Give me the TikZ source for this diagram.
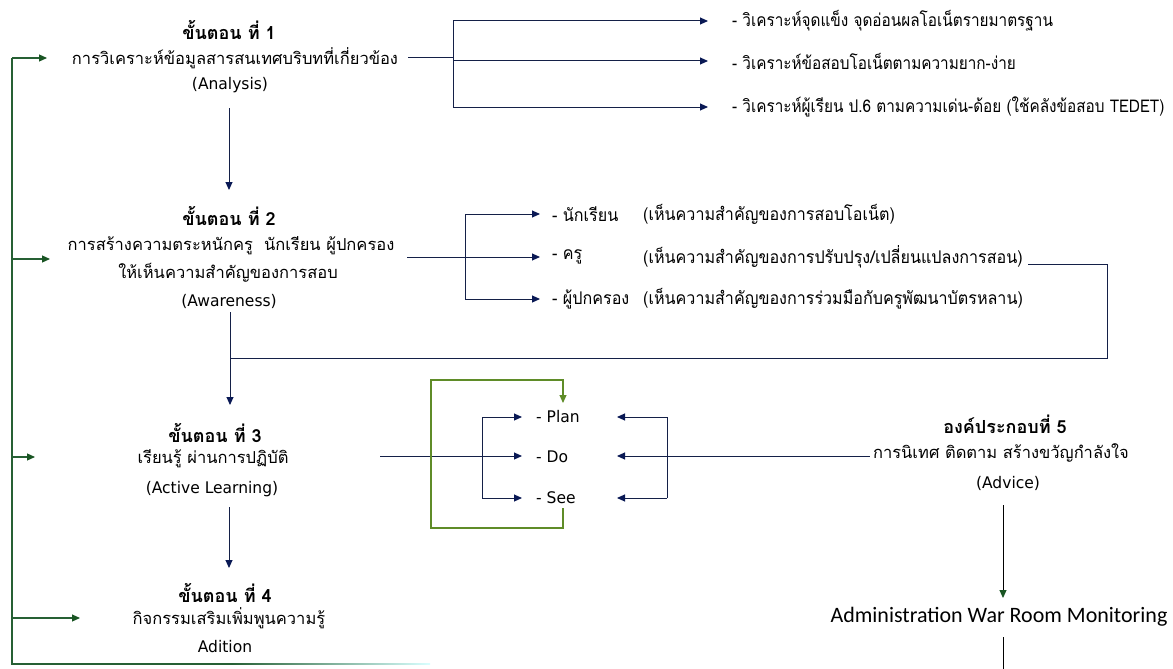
\documentclass[tikz,border=0pt]{standalone}
\usepackage{fontspec}
\usetikzlibrary{arrows.meta}
\newfontfamily\thf[Script=Thai]{Loma}
\newfontfamily\thn[Script=Thai,FakeStretch=0.92]{Loma}
\newfontfamily\thb[Script=Thai,FakeStretch=0.875]{Loma}
\newfontfamily\enf[FakeStretch=0.97]{DejaVu Sans}
\newfontfamily\calf{Carlito}
\definecolor{navy}{RGB}{20,32,72}
\definecolor{navyhead}{RGB}{10,25,85}
\definecolor{fbgreen}{RGB}{38,96,52}
\definecolor{fbhead}{RGB}{25,85,35}
\definecolor{loopgreen}{RGB}{95,140,40}
\tikzset{
  hd/.style={inner sep=0pt, font=\thf\bfseries\fontsize{18}{21}\selectfont},
  tx/.style={inner sep=0pt, font=\thf\fontsize{16.5}{19}\selectfont},
  en/.style={inner sep=0pt, font=\enf\fontsize{16}{19}\selectfont},
  bl/.style={inner sep=0pt, anchor=west, font=\thn\fontsize{17.5}{20}\selectfont},
  bt/.style={inner sep=0pt, anchor=west, font=\thb\fontsize{17.5}{20}\selectfont},
  nv/.style={draw=navy, line width=1pt},
  nvarr/.style={nv, -{Triangle[length=8pt,width=7pt,fill=navyhead,color=navyhead]}},
  fb/.style={draw=fbgreen, line width=1.1pt},
  fbarr/.style={fb, -{Triangle[length=8pt,width=7pt,fill=fbhead,color=fbhead]}},
  lp/.style={draw=loopgreen, line width=1.1pt},
}
\begin{document}
\begin{tikzpicture}[x=1pt,y=-1pt]
\path[use as bounding box, fill=white] (0,0) rectangle (1173,669);

% ---- Step 1
\node[hd] (s1h) at (229,30) {ขั้นตอน ที่ 1};
\node[tx] (s1t) at (235,58) {การวิเคราะห์ข้อมูลสารสนเทศบริบทที่เกี่ยวข้อง};
\node[en] (s1e) at (230,85) {(Analysis)};
\node[bt] (b11) at (732,21) {- วิเคราะห์จุดแข็ง จุดอ่อนผลโอเน็ตรายมาตรฐาน};
\node[bt] (b12) at (732,61) {- วิเคราะห์ข้อสอบโอเน็ตตามความยาก-ง่าย};
\node[bt] (b13) at (732,107) {- วิเคราะห์ผู้เรียน ป.6 ตามความเด่น-ด้อย (ใช้คลังข้อสอบ TEDET)};
\coordinate (c1) at (408,58);
\coordinate (j1) at (453,58);
\coordinate (j1t) at (453,21);
\coordinate (j1m) at (453,61);
\coordinate (j1b) at (453,107);
\draw[nv] (c1) -- (j1);
\draw[nv] (j1t) -- (j1b);
\draw[nvarr] (j1t) -- ([xshift=-24pt]b11.west);
\draw[nvarr] (j1m) -- ([xshift=-24pt]b12.west);
\draw[nvarr] (j1b) -- ([xshift=-24pt]b13.west);

% ---- Step 2
\node[hd] (s2h) at (229,216) {ขั้นตอน ที่ 2};
\node[tx] (s2t) at (231,246) {การสร้างความตระหนักครู~~นักเรียน ผู้ปกครอง};
\node[tx] (s2u) at (228,273) {ให้เห็นความสำคัญของการสอบ};
\node[en] (s2e) at (229,301) {(Awareness)};
\node[bl] (p1) at (552,214) {- นักเรียน};
\node[bl] (p2) at (552,257) {- ครู};
\node[bl] (p3) at (552,299) {- ผู้ปกครอง};
\node[bl] (q1) at (643,214) {(เห็นความสำคัญของการสอบโอเน็ต)};
\node[bl] (q2) at (643,257) {(เห็นความสำคัญของการปรับปรุง/เปลี่ยนแปลงการสอน)};
\node[bl] (q3) at (643,299) {(เห็นความสำคัญของการร่วมมือกับครูพัฒนาบัตรหลาน)};
\coordinate (c2) at (407,257);
\coordinate (j2) at (465,257);
\coordinate (j2t) at (465,214);
\coordinate (j2b) at (465,299);
\draw[nv] (c2) -- (j2);
\draw[nv] (j2t) -- (j2b);
\draw[nvarr] (j2t) -- ([xshift=-12pt]p1.west);
\draw[nvarr] (j2) -- ([xshift=-12pt]p2.west);
\draw[nvarr] (j2b) -- ([xshift=-12pt]p3.west);
\coordinate (k0) at (1028,264);
\coordinate (k1) at (1107,264);
\coordinate (k2) at (1107,358);
\coordinate (k3) at (230,358);
\draw[nv] (k0) -- (k1) -- (k2) -- (k3);

% step 1 -> 2 -> 3
\coordinate (a1s) at (229,108);
\coordinate (a1e) at (229,190);
\draw[nvarr] (a1s) -- (a1e);
\coordinate (a2s) at (230,312);
\coordinate (a2e) at (230,405);
\draw[nvarr] (a2s) -- (a2e);

% ---- Step 3
\node[hd] (s3h) at (215,433) {ขั้นตอน ที่ 3};
\node[tx] (s3t) at (213,459) {เรียนรู้ ผ่านการปฏิบัติ};
\node[en] (s3e) at (212,489) {(Active Learning)};
\node[en, anchor=west] (pd1) at (536,417) {- Plan};
\node[en, anchor=west] (pd2) at (536,457) {- Do};
\node[en, anchor=west] (pd3) at (536,498) {- See};
\coordinate (c3) at (380,456);
\coordinate (j3) at (482,456);
\coordinate (j3t) at (482,417);
\coordinate (j3b) at (482,498);
\draw[nv] (c3) -- (j3);
\draw[nv] (j3t) -- (j3b);
\draw[nvarr] (j3t) -- ([xshift=-14pt]pd1.west);
\draw[nvarr] (j3) -- ([xshift=-14pt]pd2.west |- j3);
\draw[nvarr] (j3b) -- ([xshift=-14pt]pd3.west);
% loop
\coordinate (l0) at (563,508);
\coordinate (l1) at (563,528);
\coordinate (l2) at (431,528);
\coordinate (l3) at (431,380);
\coordinate (l4) at (563,380);
\coordinate (l5) at (563,403);
\draw[lp, -{Triangle[length=8pt,width=7pt,fill=loopgreen,color=loopgreen]}] (l0) -- (l1) -- (l2) -- (l3) -- (l4) -- (l5);

% right side arrows
\coordinate (r0) at (667,456);
\coordinate (rt) at (667,417);
\coordinate (rb) at (667,498);
\coordinate (rt2) at (617,417);
\coordinate (r02) at (617,456);
\coordinate (rb2) at (617,498);
\draw[nv] (rt) -- (rb);
\draw[nvarr] (rt) -- (rt2);
\draw[nvarr] (r0) -- (r02);
\draw[nvarr] (rb) -- (rb2);

% ---- Component 5
\node[hd] (s5h) at (1005,424) {องค์ประกอบที่ 5};
\node[tx] (s5t) at (1001,453) {การนิเทศ ติดตาม สร้างขวัญกำลังใจ};
\node[en] (s5e) at (1008,483) {(Advice)};
\draw[nv] (r0) -- ([xshift=-3pt]s5t.west |- r0);
\node[inner sep=0pt, font=\calf\fontsize{22}{26}\selectfont] (adm) at (999,617) {Administration War Room Monitoring};
\coordinate (a5s) at (1003,505);
\coordinate (a5e) at (1003,598);
\draw[draw=black, line width=1pt, -{Triangle[length=8pt,width=7pt,fill=fbhead,color=fbhead]}] (a5s) -- (a5e);
\coordinate (a6s) at (1003,637);
\coordinate (a6e) at (1003,669);
\draw[draw=black, line width=1pt] (a6s) -- (a6e);

% ---- Step 4
\coordinate (a3s) at (229,507);
\coordinate (a3e) at (229,568);
\draw[nvarr] (a3s) -- (a3e);
\node[hd] (s4h) at (225,593) {ขั้นตอน ที่ 4};
\node[tx] (s4t) at (229,618) {กิจกรรมเสริมเพิ่มพูนความรู้};
\node[en] (s4e) at (225,647) {Adition};

% ---- feedback line
\coordinate (f0) at (12,58);
\coordinate (f1) at (12,664);
\coordinate (f2) at (232,664);
\coordinate (f3) at (430,664);
\draw[fb] (f0) -- (f1) -- (f2);
\shade[left color=fbgreen, right color=cyan!15] (232,663.4) rectangle (430,664.6);
\coordinate (g1) at (47,58);
\coordinate (g2s) at (12,259);
\coordinate (g2) at (50,259);
\coordinate (g3s) at (12,457);
\coordinate (g3) at (35,457);
\coordinate (g4s) at (12,618);
\coordinate (g4) at (80,618);
\draw[fbarr] (f0) -- (g1);
\draw[fbarr] (g2s) -- (g2);
\draw[fbarr] (g3s) -- (g3);
\draw[fbarr] (g4s) -- (g4);
\end{tikzpicture}
\end{document}
